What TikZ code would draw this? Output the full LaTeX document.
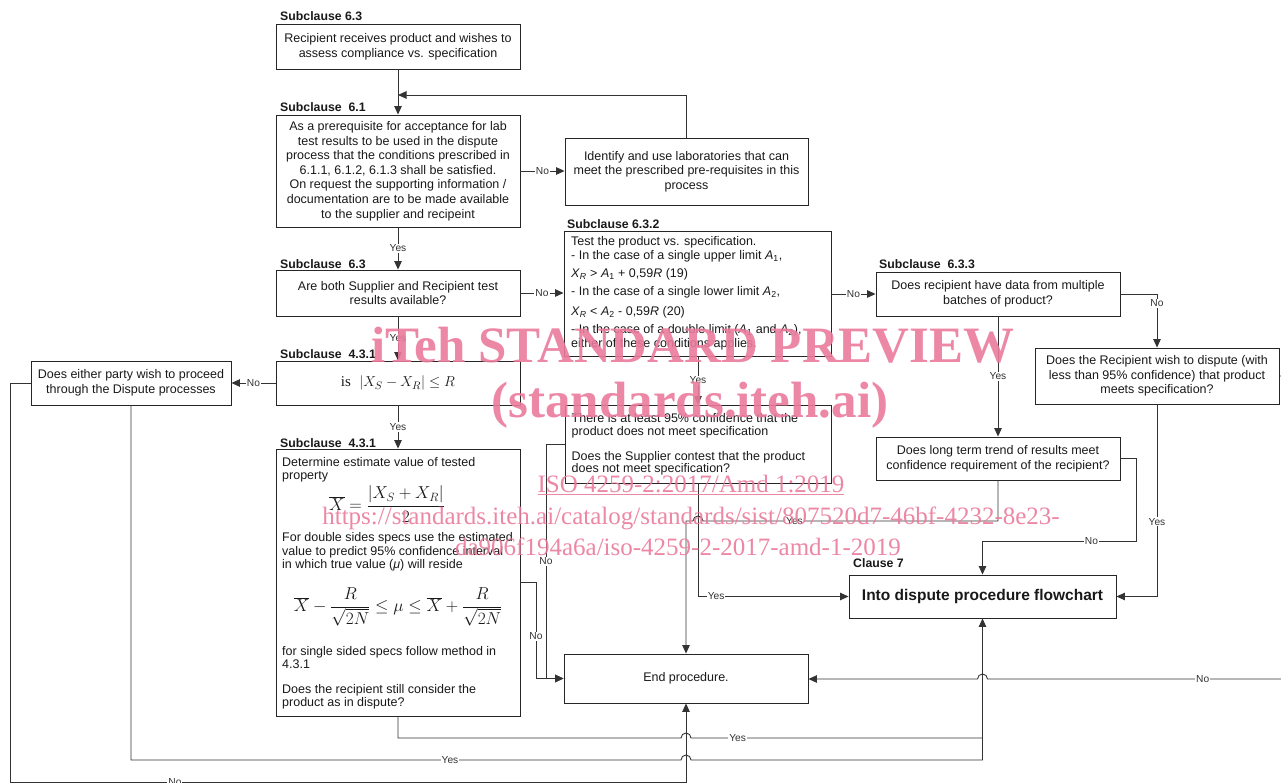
\documentclass[tikz,border=0pt]{standalone}
\usepackage{fontspec}
\setmainfont{Liberation Sans}
\newfontfamily\serifF{Liberation Serif}
\usetikzlibrary{arrows.meta}
\definecolor{wmpink}{RGB}{234,122,155}
\begin{document}
\begin{tikzpicture}[x=1pt,y=-1pt,
  box/.style={draw=black!85, line width=0.9pt, rectangle, inner sep=2pt, align=center,
    font=\fontsize{12.5}{14.6}\selectfont, text=black!90},
  conn/.style={draw=black!80, line width=0.9pt},
  arr/.style={conn, -{Triangle[length=8.5pt,width=7.5pt]}},
  lab/.style={fill=white, inner sep=1pt, font=\fontsize{10.2}{11}\selectfont, text=black!80},
  sub/.style={anchor=base west, inner sep=0pt, font=\bfseries\fontsize{12.3}{14}\selectfont, text=black!90},
  tl/.style={anchor=base west, inner sep=0pt, font=\fontsize{12.5}{14.5}\selectfont, text=black!90},
  mth/.style={inner sep=0pt, text=black!90},
  wm/.style={text=wmpink, opacity=0.9, inner sep=0pt, anchor=base}
]
\useasboundingbox (0,0) rectangle (1281,783);

% ---------- boxes ----------
\node[box, minimum width=244pt, minimum height=45pt] (A) at (398,46.5)
  {Recipient receives product and wishes to\\assess compliance vs. specification};
\node[box, minimum width=244pt, minimum height=112pt] (B) at (398,171)
  {As a prerequisite for acceptance for lab\\test results to be used in the dispute\\process that the conditions prescribed in\\6.1.1, 6.1.2, 6.1.3 shall be satisfied.\\On request the supporting information /\\documentation are to be made available\\to the supplier and recipeint};
\node[box, minimum width=243pt, minimum height=67pt] (C) at (686.5,171.5)
  {Identify and use laboratories that can\\meet the prescribed pre-requisites in this\\process};
\node[box, minimum width=244pt, minimum height=46pt] (D) at (398,293)
  {Are both Supplier and Recipient test\\results available?};
\node[box, minimum width=267pt, minimum height=125pt] (E) at (697.5,293.5) {};
\node[box, minimum width=244pt, minimum height=44pt, font=\fontsize{15}{17}\selectfont] (F) at (398,383)
  {{\serifF is}\ \ $\left|X_S-X_R\right|\le R$};
\node[box, minimum width=200pt, minimum height=44pt] (G) at (131,383)
  {Does either party wish to proceed\\through the Dispute processes};
\node[box, minimum width=244pt, minimum height=267pt] (H) at (398,582.5) {};
\node[box, minimum width=244pt, minimum height=44pt] (I) at (998,294)
  {Does recipient have data from multiple\\batches of product?};
\node[box, minimum width=266pt, minimum height=78pt] (J) at (698,444) {};
\node[box, minimum width=244pt, minimum height=56pt] (K) at (1157,376)
  {Does the Recipient wish to dispute (with\\less than 95\% confidence) that product\\meets specification?};
\node[box, minimum width=244pt, minimum height=43pt] (L) at (998,458.5)
  {Does long term trend of results meet\\confidence requirement of the recipient?};
\node[box, minimum width=267pt, minimum height=43pt, font=\bfseries\fontsize{15.5}{18}\selectfont] (M) at (982.5,596.5)
  {Into dispute procedure flowchart};
\node[box, minimum width=244pt, minimum height=49pt] (N) at (686,678.5) {End procedure.};

% ---------- text inside E ----------
\node[tl] (E1) at (571,246) {Test the product vs. specification.};
\node[tl] (E2) at (571,259.5) {- In the case of a single upper limit \textit{A}\textsubscript{1},};
\node[tl] (E3) at (571,277.7) {\textit{X}\textsubscript{\textit{R}} > \textit{A}\textsubscript{1} + 0,59\textit{R} (19)};
\node[tl] (E4) at (571,296) {- In the case of a single lower limit \textit{A}\textsubscript{2},};
\node[tl] (E5) at (571,315.5) {\textit{X}\textsubscript{\textit{R}} < \textit{A}\textsubscript{2} - 0,59\textit{R} (20)};
\node[tl] (E6) at (571,334) {- In the case of a double limit (\textit{A}\textsubscript{1} and \textit{A}\textsubscript{2}),};
\node[tl] (E7) at (571,347) {either of these conditions applies.};

% ---------- text inside H ----------
\node[tl] (H1) at (282,466.7) {Determine estimate value of tested};
\node[tl] (H2) at (282,479.5) {property};
\node[mth, font=\fontsize{18}{20}\selectfont] (Hf1) at (387,504)
  {$\displaystyle \overline{X}=\frac{\left|X_S+X_R\right|}{2}$};
\node[tl] (H3) at (282,541.7) {For double sides specs use the estimated};
\node[tl] (H4) at (282,555) {value to predict 95\% confidence interval};
\node[tl] (H5) at (282,568.3) {in which true value (\textit{μ}) will reside};
\node[mth, font=\fontsize{19}{22}\selectfont] (Hf2) at (398,607)
  {$\displaystyle \overline{X}-\frac{R}{\sqrt{2N}}\le\mu\le\overline{X}+\frac{R}{\sqrt{2N}}$};
\node[tl] (H6) at (282,655.7) {for single sided specs follow method in};
\node[tl] (H7) at (282,668.5) {4.3.1};
\node[tl] (H8) at (282,693) {Does the recipient still consider the};
\node[tl] (H9) at (282,706) {product as in dispute?};

% ---------- text inside J ----------
\node[tl] (J1) at (571.5,422.3) {There is at least 95\% confidence that the};
\node[tl] (J2) at (571.5,435) {product does not meet specification};
\node[tl] (J3) at (571.5,460) {Does the Supplier contest that the product};
\node[tl] (J4) at (571.5,472.5) {does not meet specification?};

% ---------- subclause labels ----------
\node[sub] (s1) at (280,21) {Subclause 6.3};
\node[sub] (s2) at (280,112) {Subclause\ \ 6.1};
\node[sub] (s3) at (280,269) {Subclause\ \ 6.3};
\node[sub] (s4) at (280,358) {Subclause\ \ 4.3.1};
\node[sub] (s5) at (280,447) {Subclause\ \ 4.3.1};
\node[sub] (s6) at (567,229) {Subclause 6.3.2};
\node[sub] (s7) at (879,269) {Subclause\ \ 6.3.3};
\node[sub] (s8) at (853,567) {Clause 7};

% ---------- connectors ----------
\coordinate (jB) at (398,95);
\draw[arr] (A.south) -- (B.north);
\draw[arr] (C.north) -- (C.north |- jB) -- (jB);
\draw[arr] (B.east) -- node[lab]{No} (B.east -| C.west);
\draw[arr] (B.south) -- node[lab]{Yes} (D.north);
\draw[arr] (D.east) -- node[lab]{No} (D.east -| E.west);
\draw[arr] (D.south) -- node[lab]{Yes} (F.north);
\draw[arr] (F.west) -- node[lab]{No} (G.east);
\draw[arr] (F.south) -- node[lab]{Yes} (H.north);
\draw[arr] (E.east |- I.west) -- node[lab]{No} (I.west);
\draw[arr] (E.south -| J.north) -- node[lab]{Yes} (J.north);
\draw[arr] (J.south) -- (698,596.5) -- node[lab,pos=0.12]{Yes} (M.west);
\draw[arr] (J.west) -- (546,444) -- node[lab]{No} (546,678.5) -- (N.west);
\draw[arr] (H.east) -- (536,582.5) -- node[lab,pos=0.56]{No} (536,678.5) -- (N.west);
\draw[arr] (I.east) -- (1157,294) -- node[lab,pos=0.17]{No} (K.north);
\draw[arr] (I.south) -- node[lab]{Yes} (L.north);
\draw[arr] (L.east) -- (1136,458.5) -- (1136,541) -- node[lab,pos=0.29]{No} (982.5,541) -- (M.north);
\draw[arr] (K.south) -- node[lab,pos=0.61]{Yes} (1157,596.5) -- (M.east);
\draw[arr] (L.south) -- (998,521) -- node[lab,pos=0.69]{Yes} (703,521)
   arc[start angle=0,end angle=180,radius=5pt] -- (686,521) -- (N.north);
\draw[arr] (K.east) -- (1295,376) -- (1295,679) -- node[lab,pos=0.30]{No} (987.5,679)
   arc[start angle=0,end angle=180,radius=5pt] -- (N.east |- 0,679);
\draw[arr] (H.south) -- (398,738) -- (681,738) arc[start angle=180,end angle=0,radius=5pt]
   -- node[lab,pos=0.16]{Yes} (982.5,738) -- (M.south);
\draw[conn] (G.south) -- (131,760) -- node[lab,pos=0.58]{Yes} (681,760)
   arc[start angle=180,end angle=0,radius=5pt] -- (982.5,760) -- (982.5,738);
\draw[arr] (G.west) -- (10,383) -- (10,782) -- node[lab,pos=0.244]{No} (686,782) -- (N.south);

% ---------- watermark ----------
\node[wm, font=\serifF\bfseries\fontsize{51}{51}\selectfont] (wm1) at (693,362) {iTeh STANDARD PREVIEW};
\node[wm, font=\serifF\bfseries\fontsize{51}{51}\selectfont] (wm2) at (690,417) {(standards.iteh.ai)};
\node[wm, font=\serifF\fontsize{25}{25}\selectfont] (wm3) at (691,492) {\underline{ISO 4259-2:2017/Amd 1:2019}};
\node[wm, font=\serifF\fontsize{25}{25}\selectfont] (wm4) at (691,524) {https://standards.iteh.ai/catalog/standards/sist/807520d7-46bf-4232-8e23-};
\node[wm, font=\serifF\fontsize{25}{25}\selectfont] (wm5) at (678,555) {da906f194a6a/iso-4259-2-2017-amd-1-2019};
\end{tikzpicture}
\end{document}
